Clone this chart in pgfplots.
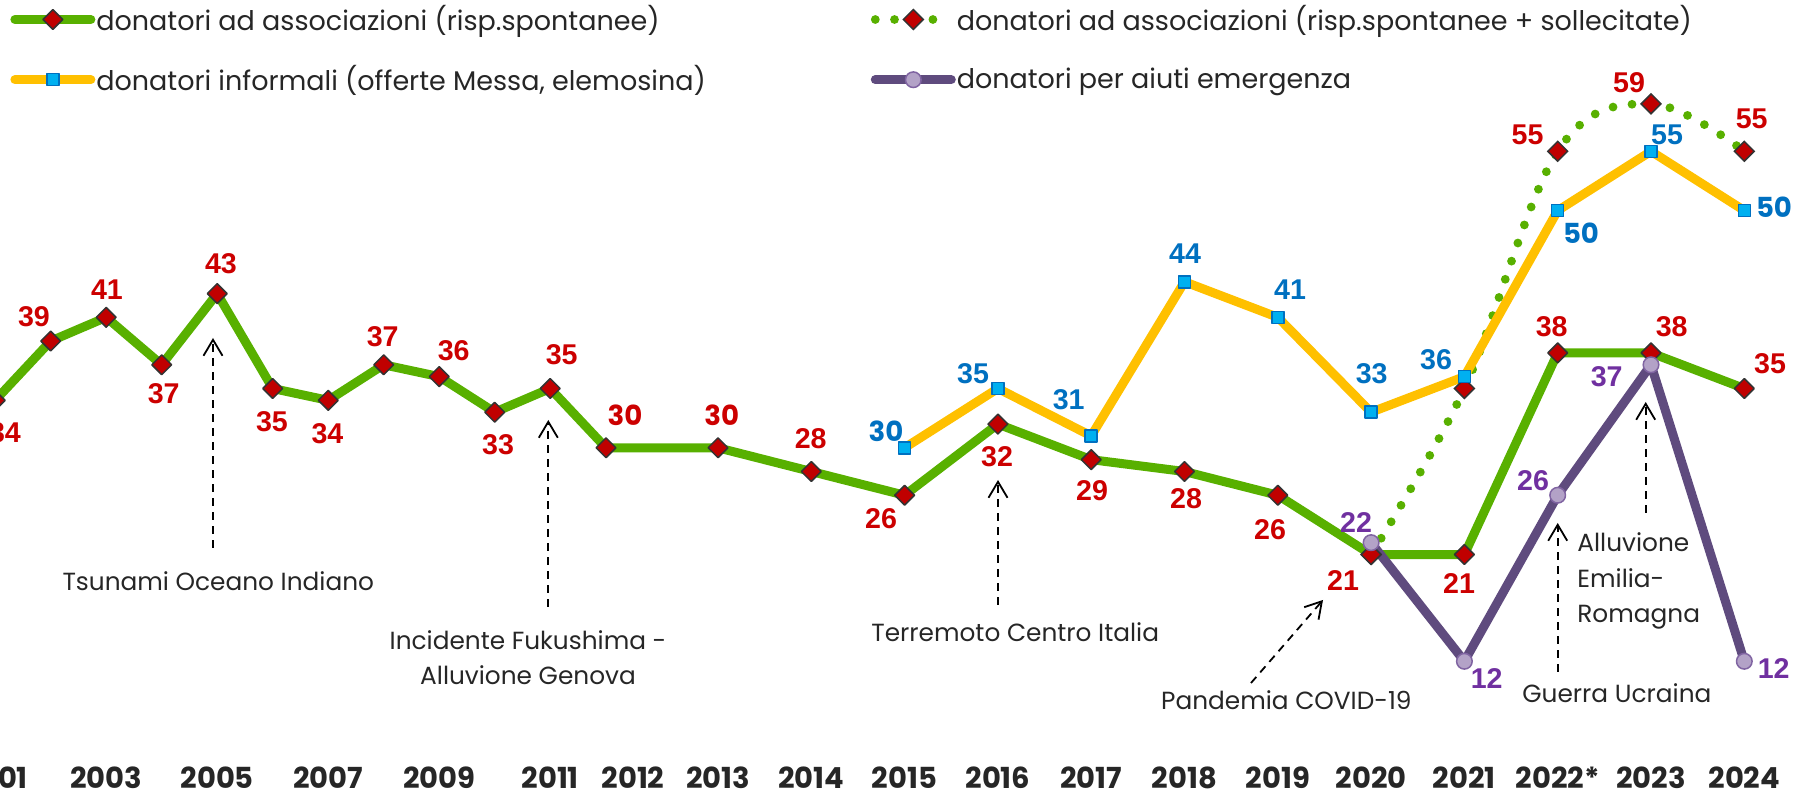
\documentclass[border=0pt]{standalone}
\usepackage{pgfplots}
\pgfplotsset{compat=1.18}
\usepackage{fontspec}
\setmainfont{Poppins}
\newfontfamily\arialf{Liberation Sans}
\usetikzlibrary{arrows.meta}

\definecolor{grn}{HTML}{58B000}
\definecolor{yel}{HTML}{FFC000}
\definecolor{purp}{HTML}{5F4B7E}
\definecolor{mred}{HTML}{C00000}
\definecolor{mstroke}{HTML}{333333}
\definecolor{mblue}{HTML}{00B0F0}
\definecolor{mbluedark}{HTML}{0070C0}
\definecolor{mpurp}{HTML}{B3A2C7}
\definecolor{mpurpdark}{HTML}{8064A2}
\definecolor{labred}{HTML}{CC0000}
\definecolor{labblue}{HTML}{0070C0}
\definecolor{labpurp}{HTML}{7030A0}
\definecolor{txtgray}{HTML}{262626}

\newcommand{\lab}[4]{\node[#1] at (axis cs:#2,{(803.6-(#3))/11.86}) {#4};}
\newcommand{\ann}[4]{\node[ann,anchor=#1] at (axis cs:#2,{(803.6-(#3))/11.86}) {#4};}
\newcommand{\arr}[4]{\draw[arr] (axis cs:#1,{(803.6-(#2))/11.86}) -- (axis cs:#3,{(803.6-(#4))/11.86});}

\tikzset{
  rl/.style={text=labred, font=\arialf\bfseries\fontsize{14.3}{16}\selectfont, inner sep=0pt},
  rp/.style={text=labred, font=\bfseries\fontsize{13.8}{16}\selectfont, inner sep=0pt},
  bl/.style={text=labblue, font=\arialf\bfseries\fontsize{14.3}{16}\selectfont, inner sep=0pt},
  bp/.style={text=labblue, font=\bfseries\fontsize{13.8}{16}\selectfont, inner sep=0pt},
  pl/.style={text=labpurp, font=\arialf\bfseries\fontsize{14.3}{16}\selectfont, inner sep=0pt},
  ann/.style={text=txtgray, font=\fontsize{12.4}{14}\selectfont, inner sep=0pt},
  arr/.style={black, line width=0.9pt, dash pattern=on 4pt off 3pt,
     -{Straight Barb[length=8pt,width=9.5pt,line width=0.9pt]}},
}

\begin{document}
\begin{tikzpicture}
\begin{axis}[
  width=923pt, height=397pt, scale only axis,
  xmin=-50, xmax=1796, ymin=0.809, ymax=67.757,
  clip=false,
  axis line style={draw=none},
  tick style={draw=none},
  major tick length=0pt,
  ytick=\empty,
  xtick={-4.8,106.2,217.2,328.2,439.2,550.2,633,718,811.3,904.6,997.9,1091.2,1184.5,1277.8,1371.1,1464.4,1557.7,1651,1744.3},
  xticklabels={2001,2003,2005,2007,2009,2011,2012,2013,2014,2015,2016,2017,2018,2019,2020,2021,2022*,2023,2024},
  xticklabel style={anchor=base, yshift=3pt, font=\bfseries\fontsize{14.5}{15}\selectfont, text=txtgray, inner sep=0pt, text depth=0pt},
  legend columns=2,
  legend cell align=left,
  legend style={at={(axis description cs:0.0325,0.9937)}, anchor=north west, draw=none, fill=none,
     inner sep=0pt, row sep=16pt, font=\fontsize{13.5}{15}\selectfont, text=txtgray,
     nodes={inner xsep=0.5pt, inner ysep=0pt},
     /tikz/every even column/.append style={column sep=82pt}},
  legend image code/.code={\draw[mark repeat=2,mark phase=2,#1] plot coordinates {(0pt,0pt) (19pt,0pt) (38pt,0pt)};},
]
% donatori ad associazioni (risp. spontanee)
\addplot[color=grn, line width=4.5pt, line join=round, line cap=round, mark=square*, mark size=3.5pt,
  mark options={rotate=45, fill=mred, draw=mstroke, line width=0.75pt}]
  coordinates {(-4.8,34) (50.7,39) (106.2,41) (161.7,37) (217.2,43) (272.7,35) (328.2,34) (383.7,37)
  (439.2,36) (494.7,33) (550.2,35) (606,30) (718,30) (811.3,28) (904.6,26) (997.9,32) (1091.2,29)
  (1184.5,28) (1277.8,26) (1371.1,21) (1464.4,21) (1557.7,38) (1651,38) (1744.3,35)};
\addlegendentry{donatori ad associazioni (risp.spontanee)}
% spontanee + sollecitate
\addplot[color=grn, line width=4.4pt, line cap=round, dash pattern=on 0pt off 9.6pt, smooth, tension=0.6,
  mark=square*, mark size=3.5pt,
  mark options={solid, rotate=45, fill=mred, draw=mstroke, line width=0.75pt}]
  coordinates {(1371.1,21) (1464.4,35) (1557.7,55) (1651,59) (1744.3,55)};
\addlegendentry{donatori ad associazioni (risp.spontanee + sollecitate)}
% informali
\addplot[color=yel, line width=4.5pt, line join=round, line cap=round, mark=square*, mark size=3pt,
  mark options={fill=mblue, draw=mbluedark, line width=0.75pt}]
  coordinates {(904.6,30) (997.9,35) (1091.2,31) (1184.5,44) (1277.8,41) (1371.1,33) (1464.4,36)
  (1557.7,50) (1651,55) (1744.3,50)};
\addlegendentry{donatori informali (offerte Messa, elemosina)}
% emergenza
\addplot[color=purp, line width=4.5pt, line join=round, line cap=round, mark=*, mark size=3.9pt,
  mark options={fill=mpurp, draw=mpurpdark, line width=0.75pt}]
  coordinates {(1371.1,22) (1464.4,12) (1557.7,26) (1651,37) (1744.3,12)};
\addlegendentry{donatori per aiuti emergenza}

% data labels
\lab{rl}{5}{433}{34}
\lab{rl}{34}{316.7}{39}
\lab{rl}{107}{290}{41}
\lab{rl}{163.7}{394}{37}
\lab{rl}{221}{263.3}{43}
\lab{rl}{272}{422}{35}
\lab{rl}{327.5}{434}{34}
\lab{rl}{382.7}{337}{37}
\lab{rl}{453.7}{350.7}{36}
\lab{rl}{498}{445}{33}
\lab{rl}{561.7}{355}{35}
\lab{rp}{625}{415}{30}
\lab{rp}{721.7}{415}{30}
\lab{rl}{810.7}{438.3}{28}
\lab{rl}{881}{519}{26}
\lab{rl}{997}{456.3}{32}
\lab{rl}{1092}{491}{29}
\lab{rl}{1186}{498.3}{28}
\lab{rl}{1270}{529.7}{26}
\lab{rl}{1343}{580.3}{21}
\lab{rl}{1459}{583.7}{21}
\lab{rl}{1551.7}{327}{38}
\lab{rl}{1671.7}{327}{38}
\lab{rl}{1770}{363.3}{35}
\lab{rl}{1527.5}{135}{55}
\lab{rl}{1629}{83}{59}
\lab{rl}{1751.7}{118.7}{55}
\lab{bp}{886}{431.7}{30}
\lab{bl}{973}{373.3}{35}
\lab{bl}{1068.7}{399.7}{31}
\lab{bl}{1185}{254}{44}
\lab{bl}{1290}{289.3}{41}
\lab{bl}{1371.7}{374}{33}
\lab{bl}{1436}{359.7}{36}
\lab{bp}{1581}{233.3}{50}
\lab{bl}{1667}{135}{55}
\lab{bp}{1774}{207}{50}
\lab{pl}{1356}{523}{22}
\lab{pl}{1486.7}{678.7}{12}
\lab{pl}{1533}{481}{26}
\lab{pl}{1606.7}{376.3}{37}
\lab{pl}{1773.7}{668.3}{12}

% annotations
\arr{213}{548}{213}{338}
\arr{548.3}{607}{548.3}{420}
\arr{998}{605}{998}{480}
\arr{1251}{683}{1323}{600}
\arr{1557.7}{672}{1557.7}{523}
\arr{1645.7}{513}{1645.7}{402}
\ann{base}{218.3}{590.7}{Tsunami Oceano Indiano}
\ann{base}{528}{650}{Incidente Fukushima -}
\ann{base}{528}{685}{Alluvione Genova}
\ann{base west}{871}{642}{Terremoto Centro Italia}
\ann{base east}{1412}{710}{Pandemia COVID-19}
\ann{base west}{1522}{703}{Guerra Ucraina}
\ann{base west}{1577}{551.7}{Alluvione}
\ann{base west}{1577}{588}{Emilia-}
\ann{base west}{1577}{623}{Romagna}

\coordinate (bbsw) at (axis cs:0,0.809);
\coordinate (bbne) at (axis cs:1796,67.757);
\end{axis}
\pgfresetboundingbox
\path[use as bounding box] (bbsw) rectangle (bbne);
\end{tikzpicture}
\end{document}
